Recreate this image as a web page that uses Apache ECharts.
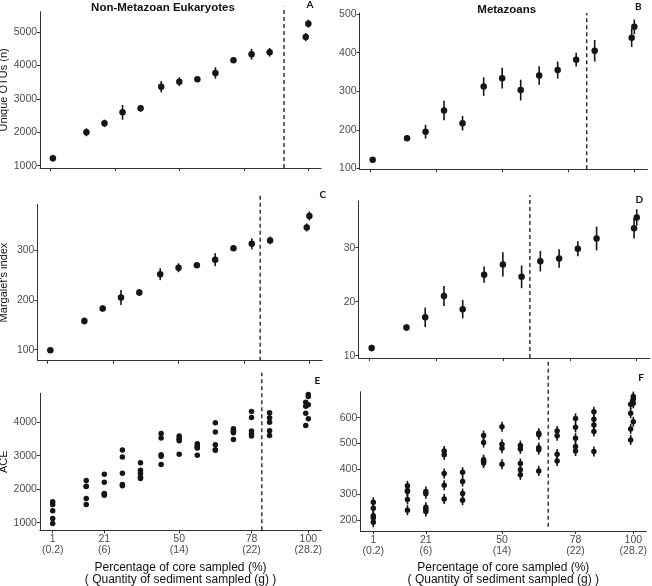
<!DOCTYPE html>
<html><head><meta charset="utf-8">
<script src="https://cdn.jsdelivr.net/npm/echarts@6/dist/echarts.min.js"></script>
<style>html,body{margin:0;padding:0;background:#fff}#c{width:652px;height:586px}</style>
</head><body><div id="c"></div>
<script>
// ---------- DATA ----------
const X_PCT = [1,14,21,28,35,43,50,57,64,71,78,85,99,100];

const A_OTU_MEAN = [1222,2000,2268,2597,2717,3364,3513,3585,3773,4153,4333,4393,4850,5248];
const A_OTU_ERR  = [100,120,110,220,100,170,130,40,170,40,160,130,120,120];

const B_OTU_MEAN = [122,178,195,250,217,312,334,303,341,355,382,405,439,467];
const B_OTU_ERR  = [5,7,18,25,19,24,27,27,24,22,18,28,24,19];

const C_MARG_MEAN = [99,158,183,205,215,252,265,270,281,304,313,320,346,369];
const C_MARG_ERR  = [5,7,6,15,7,12,9,3,13,4,11,8,8,9];

const D_MARG_MEAN = [11.4,15.2,17.1,21.05,18.6,25,26.9,24.6,27.5,28,29.8,31.7,33.6,35.6];
const D_MARG_ERR  = [0.6,0.6,1.8,1.85,1.7,1.5,2.25,2.1,1.9,1.7,1.4,2.2,1.9,1.5];

const E_ACE = [
  [1624,1545,1357,1129,980],
  [2258,2090,2079,1723,1545],
  [2446,2208,1871,1822,1850],
  [3168,2960,2475,2139,2099],
  [2792,2565,2466,2357,2317],
  [3663,3525,3030,2980,2733],
  [3584,3525,3446,3040,3480],
  [3356,3287,3228,3010,3250],
  [3980,3703,3327,3178,3158],
  [3802,3752,3683,3485,3720],
  [4317,4139,3733,3654,3584],
  [4277,4129,4000,3743,3604],
  [4594,4267,3901,4475],
  [4822,4762,4515,4099]
];

const F_ACE = [
  [270,247,217,210,192],
  [334,316,312,281,239],
  [312,303,251,242,234],
  [470,455,382,336,283],
  [387,351,304,278],
  [530,503,436,429,423],
  [564,496,481,418],
  [491,478,421,397,377],
  [539,533,483,475,392],
  [548,529,457,431],
  [597,562,520,487,470],
  [623,594,571,546,468],
  [652,617,556,513],
  [682,673,656,584]
];

const DASH_X = [90.6, 82, 81.2, 60.1, 82, 67.6];

const X_TICKS_TOP = [0,25,50,75,100];
const X_TICKS_BOTTOM = [1,21,50,78,100];
const X_TICK_PCT_LABELS = ['1','21','50','78','100'];
const X_TICK_G_LABELS = ['(0.2)','(6)','(14)','(22)','(28.2)'];

const Y_TICKS_A = [1000,2000,3000,4000,5000];
const Y_TICKS_B = [100,200,300,400,500];
const Y_TICKS_C = [100,200,300];
const Y_TICKS_D = [10,20,30];
const Y_TICKS_E = [1000,2000,3000,4000];
const Y_TICKS_F = [200,300,400,500,600];

const COLUMN_TITLES = ['Non-Metazoan Eukaryotes','Metazoans'];
const PANEL_LETTERS = ['A','B','C','D','E','F'];
const Y_NAMES = ['Unique OTUs (n)','Margalef\'s index','ACE'];
const X_NAME = 'Percentage of core sampled (%)\n( Quantity of sediment sampled (g) )';

// ---------- LAYOUT ----------
const W = 652, H = 586;
const panels = [
  {l:40.1, r:321.1, t:11.7, b:168,  ymin:931,  ymax:5607, yt:Y_TICKS_A, kind:'err', mean:A_OTU_MEAN, err:A_OTU_ERR, dash:[931,5757], yname:Y_NAMES[0]},
  {l:359.6,r:647.4, t:13,   b:169.3,ymin:97.4, ymax:503,  yt:Y_TICKS_B, kind:'err', mean:B_OTU_MEAN, err:B_OTU_ERR, dash:[97.4,503]},
  {l:37.4, r:322.3, t:204.3,b:360.7,ymin:77.9, ymax:392.6,yt:Y_TICKS_C, kind:'err', mean:C_MARG_MEAN, err:C_MARG_ERR, dash:[77.9,411], yname:Y_NAMES[1]},
  {l:358.4,r:650,   t:201,  b:358,  ymin:9.57, ymax:38.65,yt:Y_TICKS_D, kind:'err', mean:D_MARG_MEAN, err:D_MARG_ERR, dash:[9.57,39.7]},
  {l:39.9, r:321.1, t:393.3,b:530.3,ymin:774,  ymax:4860, yt:Y_TICKS_E, kind:'dot', vals:E_ACE, dash:[774,5476], yname:Y_NAMES[2], bottomAxis:true},
  {l:360.3,r:646.3, t:391.7,b:531,  ymin:158,  ymax:701,  yt:Y_TICKS_F, kind:'dia', vals:F_ACE, dash:[175,825], bottomAxis:true}
];

const FONT = '"Liberation Sans", Arial, sans-serif';
const INK = '#151515';
const AXIS = '#333';
const TXT = '#4d4d4d';

const grids = [], xAxes = [], yAxes = [], series = [];

panels.forEach((p, i) => {
  grids.push({left:p.l, top:p.t, width:p.r-p.l, height:p.b-p.t, containLabel:false, outerBoundsMode:'none'});
  xAxes.push({
    gridIndex:i, type:'value', min:-3.95, max:104.95,
    axisLine:{show:true, onZero:false, lineStyle:{color:AXIS, width:1}},
    axisTick:{show:true, length:3, customValues: p.bottomAxis ? X_TICKS_BOTTOM : X_TICKS_TOP, lineStyle:{color:AXIS}},
    axisLabel:{show:!!p.bottomAxis, customValues:X_TICKS_BOTTOM, margin:3, color:TXT, fontSize:10.5, lineHeight:11.5, fontFamily:FONT,
      formatter: v => { const k = X_TICKS_BOTTOM.indexOf(v); return k < 0 ? '' : X_TICK_PCT_LABELS[k] + '\n' + X_TICK_G_LABELS[k]; }},
    splitLine:{show:false},
    name: p.bottomAxis ? X_NAME : '', nameLocation:'middle', nameGap:31,
    nameTextStyle:{color:'#111', fontSize:12, lineHeight:12, fontFamily:FONT}
  });
  yAxes.push({
    gridIndex:i, type:'value', min:p.ymin, max:p.ymax,
    axisLine:{show:true, onZero:false, lineStyle:{color:AXIS, width:1}},
    axisTick:{show:true, length:3, customValues:p.yt, lineStyle:{color:AXIS}},
    axisLabel:{show:true, customValues:p.yt, margin:3, color:TXT, fontSize:10.5, fontFamily:FONT, formatter: v => String(v)},
    splitLine:{show:false},
    name: p.yname || '', nameLocation:'middle', nameGap:28, nameRotate:90,
    nameTextStyle:{color:'#111', fontSize:11, fontFamily:FONT}
  });

  if (p.kind === 'err') {
    series.push({
      type:'custom', xAxisIndex:i, yAxisIndex:i, silent:true,
      data: X_PCT.map((x,k) => [x, p.mean[k]-p.err[k], p.mean[k]+p.err[k]]),
      encode:{x:0, y:[1,2]},
      renderItem:(params, api) => {
        const a = api.coord([api.value(0), api.value(1)]);
        const b = api.coord([api.value(0), api.value(2)]);
        return {type:'line', shape:{x1:a[0], y1:a[1], x2:b[0], y2:b[1]}, style:{stroke:INK, lineWidth:1.6}};
      }
    });
    series.push({
      type:'scatter', xAxisIndex:i, yAxisIndex:i, silent:true,
      data: X_PCT.map((x,k) => [x, p.mean[k]]),
      symbol:'circle', symbolSize:6.5, itemStyle:{color:INK, opacity:1}
    });
  } else {
    const pts = [];
    X_PCT.forEach((x,k) => p.vals[k].forEach(v => pts.push([x, v])));
    if (p.kind === 'dia') {
      series.push({type:'scatter', xAxisIndex:i, yAxisIndex:i, silent:true, data:pts,
        symbol:'rect', symbolSize:[1.6, 10], itemStyle:{color:INK, opacity:1}});
      series.push({type:'scatter', xAxisIndex:i, yAxisIndex:i, silent:true, data:pts,
        symbol:'circle', symbolSize:5.5, itemStyle:{color:INK, opacity:1}});
    } else {
      series.push({type:'scatter', xAxisIndex:i, yAxisIndex:i, silent:true, data:pts,
        symbol:'circle', symbolSize:5.5, itemStyle:{color:INK, opacity:1}});
    }
  }
  // dashed threshold line
  series.push({
    type:'custom', xAxisIndex:i, yAxisIndex:i, silent:true, clip:false,
    data:[[DASH_X[i], p.dash[0], p.dash[1]]],
    encode:{x:0, y:[1,2]},
    renderItem:(params, api) => {
      const a = api.coord([api.value(0), api.value(1)]);
      const b = api.coord([api.value(0), api.value(2)]);
      return {type:'line', shape:{x1:a[0], y1:a[1], x2:b[0], y2:b[1]}, style:{stroke:INK, lineWidth:1.3, lineDash:[4,3]}};
    }
  });
});

const graphics = [
  {type:'text', x:163, y:8, style:{text:COLUMN_TITLES[0], align:'center', verticalAlign:'middle', font:'bold 11.5px ' + FONT, fill:'#111'}},
  {type:'text', x:506.7, y:10, style:{text:COLUMN_TITLES[1], align:'center', verticalAlign:'middle', font:'bold 11.5px ' + FONT, fill:'#111'}}
];
const letterPos = [[310,4.5],[638.3,6.5],[322.7,194.3],[639.3,200],[317.3,380.7],[641,377.5]];
PANEL_LETTERS.forEach((t,k) => graphics.push({type:'text', x:letterPos[k][0], y:letterPos[k][1],
  style:{text:t, align:'center', verticalAlign:'middle', font:'bold 10px Lato, ' + FONT, fill:'#111'}}));

const chart = echarts.init(document.getElementById('c'), null, {renderer:'canvas', width:W, height:H});
chart.setOption({
  animation:false,
  backgroundColor:'#fff',
  grid:grids, xAxis:xAxes, yAxis:yAxes, series:series, graphic:graphics
});
</script></body></html>
